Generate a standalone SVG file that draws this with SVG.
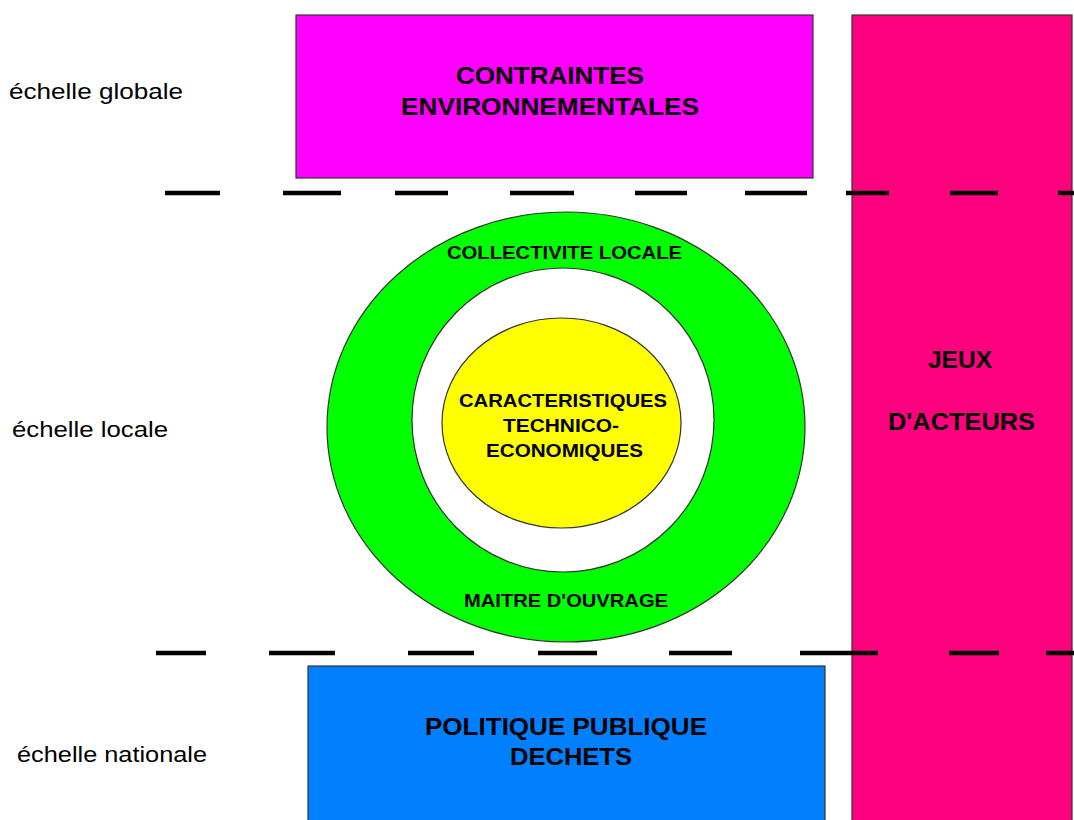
<svg xmlns="http://www.w3.org/2000/svg" width="1074" height="820" viewBox="0 0 1074 820">
<style>
.box{stroke:#333;stroke-width:1.2}
.b{font-family:"Liberation Sans",Arial,sans-serif;font-weight:bold;font-size:23px;fill:#000}
.s{font-family:"Liberation Sans",Arial,sans-serif;font-weight:bold;font-size:19px;fill:#000}
.l{font-family:"Liberation Sans",Arial,sans-serif;font-size:22px;fill:#000}
.dash{stroke:#000;stroke-width:4.5;stroke-linecap:butt}
</style>
<rect x="0" y="0" width="1074" height="820" fill="#fff"/>
<g id="contraintes">
<rect class="box" x="296" y="15" width="517" height="163" fill="#FF00FF"/>
<text class="b" x="456" y="84" textLength="188" lengthAdjust="spacingAndGlyphs">CONTRAINTES</text>
<text class="b" x="401" y="115" textLength="298" lengthAdjust="spacingAndGlyphs">ENVIRONNEMENTALES</text>
</g>
<g id="jeux">
<rect class="box" x="852" y="15" width="220" height="820" fill="#FF007F"/>
<text class="b" x="928" y="368" textLength="64" lengthAdjust="spacingAndGlyphs">JEUX</text>
<text class="b" x="888" y="430" textLength="147" lengthAdjust="spacingAndGlyphs">D'ACTEURS</text>
</g>
<g id="politique">
<rect class="box" x="308" y="666" width="517" height="170" fill="#0080FF"/>
<text class="b" x="425" y="735" textLength="282" lengthAdjust="spacingAndGlyphs">POLITIQUE PUBLIQUE</text>
<text class="b" x="510" y="765" textLength="122" lengthAdjust="spacingAndGlyphs">DECHETS</text>
</g>
<g id="collectivite">
<ellipse class="box" cx="566" cy="427" rx="239" ry="215" fill="#00FF00"/>
<ellipse class="box" cx="563" cy="420" rx="151" ry="152" fill="#fff"/>
<text class="s" x="447" y="259" textLength="235" lengthAdjust="spacingAndGlyphs">COLLECTIVITE LOCALE</text>
<text class="s" x="464" y="607" textLength="204" lengthAdjust="spacingAndGlyphs">MAITRE D'OUVRAGE</text>
</g>
<g id="caracteristiques">
<ellipse class="box" cx="561.5" cy="423" rx="119.5" ry="105" fill="#FFFF00"/>
<text class="s" x="459" y="407" textLength="208" lengthAdjust="spacingAndGlyphs">CARACTERISTIQUES</text>
<text class="s" x="503" y="432" textLength="116" lengthAdjust="spacingAndGlyphs">TECHNICO-</text>
<text class="s" x="486" y="457" textLength="157" lengthAdjust="spacingAndGlyphs">ECONOMIQUES</text>
</g>
<g id="labels">
<text class="l" x="9" y="99" textLength="174" lengthAdjust="spacingAndGlyphs">échelle globale</text>
<text class="l" x="12" y="437" textLength="156" lengthAdjust="spacingAndGlyphs">échelle locale</text>
<text class="l" x="17" y="762" textLength="190" lengthAdjust="spacingAndGlyphs">échelle nationale</text>
</g>
<g id="connectors">
<path class="dash" d="M165 193H220M283 193H341M395 193H448M510 193H574M635 193H687M745 193H807M846 193H889M950 193H998M1058 193H1074"/>
<path class="dash" d="M156 653H206M269 653H335M408 653H474M538 653H597M669 653H732M800 653H878M949 653H999M1046 653H1074"/>
</g>
</svg>
